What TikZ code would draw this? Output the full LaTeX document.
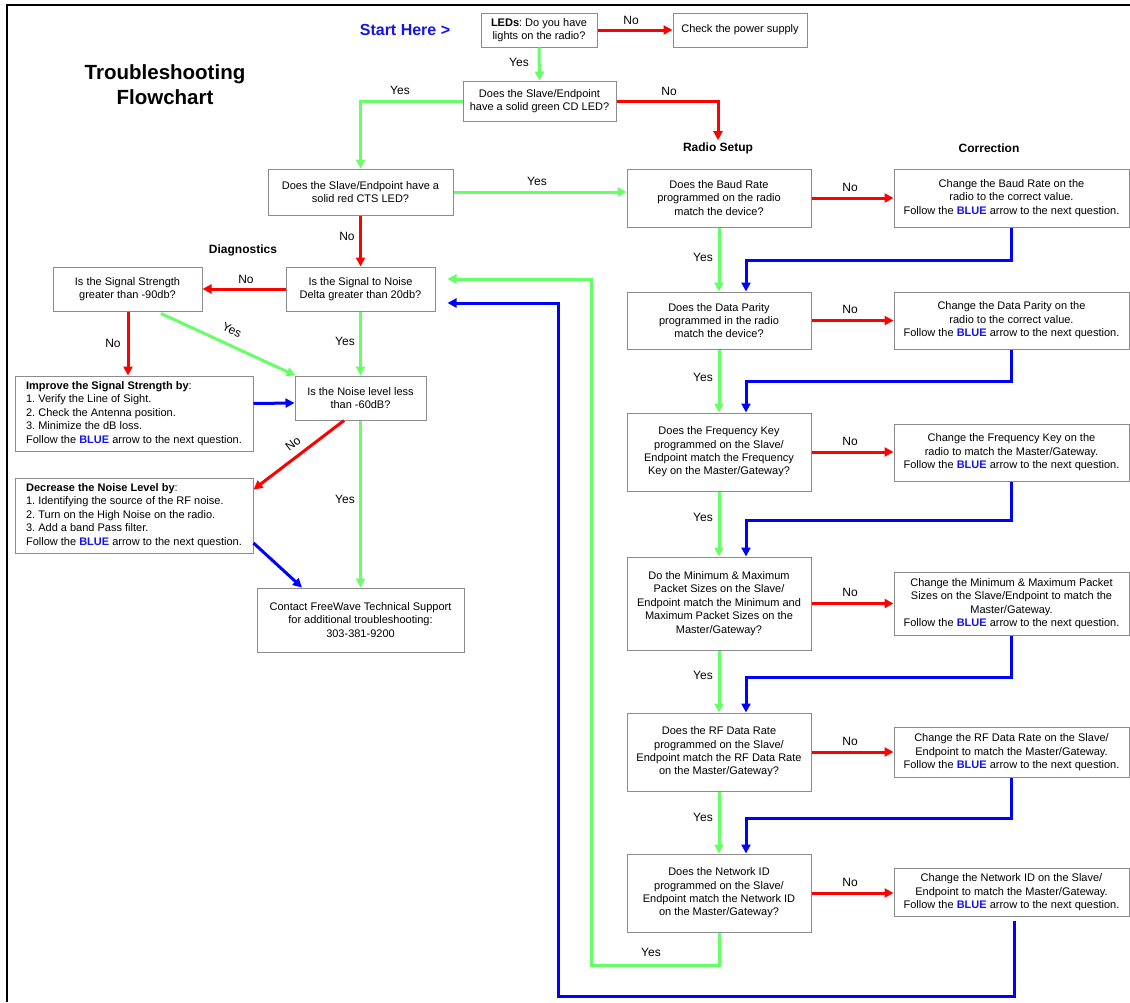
\documentclass[tikz,border=0pt]{standalone}
\usepackage{fontspec}
\setmainfont{Liberation Sans}
\usetikzlibrary{arrows.meta}
\definecolor{rd}{RGB}{255,0,0}
\definecolor{gr}{RGB}{102,255,102}
\definecolor{bl}{RGB}{0,0,255}
\definecolor{bltext}{RGB}{20,20,235}
\definecolor{boxgray}{RGB}{140,140,140}
\newcommand\blueword{\textcolor{bltext}{\textbf{BLUE}}}
\newcommand\followline{Follow the \blueword{} arrow to the next question.}
\frenchspacing
\begin{document}
\begin{tikzpicture}[x=1pt,y=-1pt,
  box/.style={draw=boxgray, line width=1pt, fill=white, align=center, inner sep=0pt, font=\fontsize{11}{13.4}\selectfont\frenchspacing},
  lbox/.style={box, align=left},
  lbl/.style={font=\fontsize{12}{14}\selectfont, inner sep=0pt},
  hdr/.style={font=\fontsize{12}{14}\selectfont\bfseries, inner sep=2pt},
  conn/.style={line width=3pt, -{Triangle[length=9pt,width=9pt]}},
  rl/.style={conn, draw=rd},
  gl/.style={conn, draw=gr},
  bll/.style={conn, draw=bl},
]
\fill[white] (0,0) rectangle (1130,1002);
\useasboundingbox (0,0) rectangle (1130,1002);
\draw[line width=2pt] (7,1002) -- (7,5) -- (1130,5);

% titles
\node[align=center, font=\fontsize{20.5}{25}\selectfont\bfseries] (title) at (165,84.5) {Troubleshooting\\Flowchart};
\node[font=\fontsize{16}{18}\selectfont\bfseries, text=bltext] (start) at (405,30) {Start Here >};
\node[hdr] (rs) at (718,148) {Radio Setup};
\node[hdr] (corr) at (989,148) {Correction};
\node[hdr] (diag) at (243,250) {Diagnostics};

% top boxes
\node[box, minimum width=116pt, minimum height=34pt] (leds) at (539,30) {\textbf{LEDs}: Do you have\\lights on the radio?};
\node[box, minimum width=134pt, minimum height=34pt] (power) at (740,30) {Check the power supply};
\node[box, minimum width=153pt, minimum height=40pt] (cd) at (539.5,101) {Does the Slave/Endpoint\\have a solid green CD LED?};
\node[box, minimum width=185pt, minimum height=46pt] (cts) at (360.5,192) {Does the Slave/Endpoint have a\\solid red CTS LED?};

% radio setup column
\node[box, minimum width=184pt, minimum height=58pt] (baud) at (719,198) {Does the Baud Rate\\programmed on the radio\\match the device?};
\node[box, minimum width=184pt, minimum height=57pt] (parity) at (719,320.5) {Does the Data Parity\\programmed in the radio\\match the device?};
\node[box, minimum width=184pt, minimum height=78pt] (freq) at (719,452) {Does the Frequency Key\\programmed on the Slave/\\Endpoint match the Frequency\\Key on the Master/Gateway?};
\node[box, minimum width=184pt, minimum height=93pt] (minmax) at (719,603.5) {Do the Minimum \& Maximum\\Packet Sizes on the Slave/\\Endpoint match the Minimum and\\Maximum Packet Sizes on the\\Master/Gateway?};
\node[box, minimum width=184pt, minimum height=78pt] (rf) at (719,752) {Does the RF Data Rate\\programmed on the Slave/\\Endpoint match the RF Data Rate\\on the Master/Gateway?};
\node[box, minimum width=184pt, minimum height=78pt] (netid) at (719,893) {Does the Network ID\\programmed on the Slave/\\Endpoint match the Network ID\\on the Master/Gateway?};

% correction column
\node[box, minimum width=235pt, minimum height=58pt] (baudc) at (1011.5,198) {Change the Baud Rate on the\\radio to the correct value.\\\followline};
\node[box, minimum width=235pt, minimum height=57pt] (parityc) at (1011.5,320.5) {Change the Data Parity on the\\radio to the correct value.\\\followline};
\node[box, minimum width=235pt, minimum height=57pt] (freqc) at (1011.5,452.5) {Change the Frequency Key on the\\radio to match the Master/Gateway.\\\followline};
\node[box, minimum width=235pt, minimum height=63pt] (minmaxc) at (1011.5,603.5) {Change the Minimum \& Maximum Packet\\Sizes on the Slave/Endpoint to match the\\Master/Gateway.\\\followline};
\node[box, minimum width=235pt, minimum height=50pt] (rfc) at (1011.5,752.5) {Change the RF Data Rate on the Slave/\\Endpoint to match the Master/Gateway.\\\followline};
\node[box, minimum width=235pt, minimum height=48pt] (netidc) at (1011.5,892.5) {Change the Network ID on the Slave/\\Endpoint to match the Master/Gateway.\\\followline};

% diagnostics
\node[box, minimum width=149pt, minimum height=44pt] (ss) at (127.5,289) {Is the Signal Strength\\greater than -90db?};
\node[box, minimum width=149pt, minimum height=44pt] (snr) at (360.5,289) {Is the Signal to Noise\\Delta greater than 20db?};
\node[box, minimum width=131pt, minimum height=44pt] (noise) at (360.5,398) {Is the Noise level less\\than -60dB?};
\node[lbox, minimum width=238pt, minimum height=75pt] (improve) at (134,413.5) {\textbf{Improve the Signal Strength by}:\\1. Verify the Line of Sight.\\2. Check the Antenna position.\\3. Minimize the dB loss.\\\followline};
\node[lbox, minimum width=238pt, minimum height=75pt] (decrease) at (134,515.5) {\textbf{Decrease the Noise Level by}:\\1. Identifying the source of the RF noise.\\2. Turn on the High Noise on the radio.\\3. Add a band Pass filter.\\\followline};
\node[box, minimum width=207pt, minimum height=64pt] (contact) at (360.5,620) {Contact FreeWave Technical Support\\for additional troubleshooting:\\303-381-9200};

% knee coordinates
\coordinate (b1) at (746,260);
\coordinate (b2) at (746,381);
\coordinate (b3) at (746,520);
\coordinate (b4) at (746,677);
\coordinate (b5) at (746,818);
\coordinate (gloop) at (591,965);
\coordinate (bloop) at (558,996);

% top connectors
\draw[rl] (leds.east) -- (power.west);
\node[lbl] (n1) at (631,20) {No};
\draw[gl] (leds.south) -- (cd.north);
\node[lbl] (y1) at (519,62) {Yes};
\draw[rl] (cd.east) -| (rs.north);
\node[lbl] (n2) at (669,91) {No};
\draw[gl] (cd.west) -| (cts.north);
\node[lbl] (y2) at (400,90) {Yes};
\draw[gl] (cts.east) -- (cts.east -| baud.west);
\node[lbl] (y3) at (537,181) {Yes};
\draw[rl] (cts.south) -- (snr.north);
\node[lbl] (n3) at (347,236) {No};

% radio setup connectors
\draw[rl] (baud.east) -- (baudc.west);
\node[lbl] (n4) at (850,187) {No};
\draw[rl] (parity.east) -- (parityc.west);
\node[lbl] (n5) at (850,309.5) {No};
\draw[rl] (freq.east) -- (freq.east -| freqc.west);
\node[lbl] (n6) at (850,441) {No};
\draw[rl] (minmax.east) -- (minmaxc.west);
\node[lbl] (n7) at (850,592.5) {No};
\draw[rl] (rf.east) -- (rf.east -| rfc.west);
\node[lbl] (n8) at (850,741) {No};
\draw[rl] (netid.east) -- (netid.east -| netidc.west);
\node[lbl] (n9) at (850,882) {No};

\draw[gl] (baud.south) -- (parity.north);
\node[lbl] (y4) at (703,257) {Yes};
\draw[gl] (parity.south) -- (freq.north);
\node[lbl] (y5) at (703,377) {Yes};
\draw[gl] (freq.south) -- (minmax.north);
\node[lbl] (y6) at (703,517) {Yes};
\draw[gl] (minmax.south) -- (rf.north);
\node[lbl] (y7) at (703,675) {Yes};
\draw[gl] (rf.south) -- (netid.north);
\node[lbl] (y8) at (703,817) {Yes};

\draw[bll] (baudc.south) |- (b1) -- (b1 |- parity.north);
\draw[bll] (parityc.south) |- (b2) -- (b2 |- freq.north);
\draw[bll] (freqc.south) |- (b3) -- (b3 |- minmax.north);
\draw[bll] (minmaxc.south) |- (b4) -- (b4 |- rf.north);
\draw[bll] (rfc.south) |- (b5) -- (b5 |- netid.north);

% loops back
\draw[gl] (netid.south) |- (gloop) |- ([xshift=12pt,yshift=10pt]snr.east);
\node[lbl] (y9) at (651,952) {Yes};
\draw[bll] ([xshift=3pt,yshift=-4pt]netidc.south) |- (bloop) |- ([xshift=12pt,yshift=-14pt]snr.east);

% diagnostics connectors
\draw[rl] (snr.west) -- (ss.east);
\node[lbl] (n10) at (246,279) {No};
\draw[rl] ([xshift=0.5pt]ss.south) -- ([xshift=0.5pt]improve.north -| ss.south);
\node[lbl] (n11) at (113,343) {No};
\draw[gl] ([xshift=33.5pt,yshift=-2pt]ss.south) -- ([xshift=1pt]noise.north west);
\node[lbl, rotate=-25] (y10) at (232,330) {Yes};
\draw[gl] (snr.south) -- (noise.north);
\node[lbl] (y11) at (345,341) {Yes};
\draw[bll] ([yshift=10pt]improve.east) -- ([yshift=-5pt]noise.west);
\draw[rl] ([xshift=-16.5pt]noise.south) -- ([yshift=-12pt]decrease.north east);
\node[lbl, rotate=38] (n12) at (293,444) {No};
\draw[gl] (noise.south) -- (contact.north);
\node[lbl] (y12) at (345,499) {Yes};
\draw[bll] ([yshift=-27.5pt]decrease.east) -- ([xshift=-58.5pt]contact.north);
\end{tikzpicture}
\end{document}
